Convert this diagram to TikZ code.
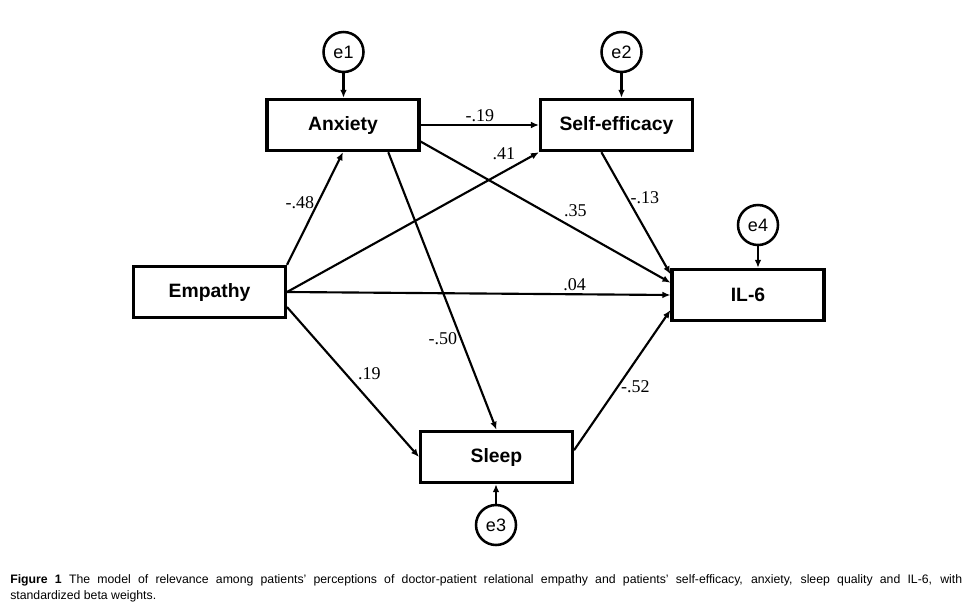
\documentclass[tikz,border=0pt]{standalone}
\usepackage{fontspec}
\setmainfont{Liberation Serif}
\setsansfont{Liberation Sans}
\usetikzlibrary{arrows.meta}

\begin{document}
\begin{tikzpicture}[x=0.75pt, y=-0.75pt,
    varbox/.style={rectangle, draw, line width=2.3pt, minimum width=114pt, minimum height=38.5pt, inner sep=0pt, font=\sffamily\bfseries\fontsize{14.5}{17}\selectfont},
    errcirc/.style={circle, draw, line width=1.9pt, minimum size=30pt, inner sep=0pt, font=\sffamily\fontsize{13.5}{16}\selectfont},
    regline/.style={-{Latex[length=6pt, width=5pt]}, line width=1.6pt},
    coef/.style={font=\fontsize{13.5}{16}\selectfont, inner sep=2pt}]
            \useasboundingbox (0,0) rectangle (972,611);
            \node[varbox] (anx) at (343,125) {Anxiety};
            \node[varbox] (self) at (616.5,125) {Self-efficacy};
            \node[varbox] (emp) at (209.5,292) {Empathy};
            \node[varbox] (il6) at (748,295) {IL-6};
            \node[varbox] (sleep) at (496.5,457) {Sleep};
            \node[errcirc] (e1) at (343.5,52) {e1};
            \node[errcirc] (e2) at (621.5,52) {e2};
            \node[errcirc] (e3) at (496,525) {e3};
            \node[errcirc] (e4) at (758,225) {e4};
            \draw[regline] (e1.south) -- (e1.south |- anx.north);
            \draw[regline] (e2.south) -- (e2.south |- self.north);
            \draw[regline] (e3.north) -- (e3.north |- sleep.south);
            \draw[regline] (e4.south) -- (e4.south |- il6.north);
            \draw[regline] (emp.north east) -- node[coef, pos=0.55, left] {-.48} (anx.south);
            \draw[regline] (emp.east) -- node[coef, pos=0.92, above left] {.41} (self.south west);
            \draw[regline] (anx.east) -- node[coef, above] {-.19} (self.west);
            \draw[regline] (anx.-12) -- node[coef, pos=0.56, above right] {.35} (il6.171);
            \draw[regline] (self.-119) -- node[coef, pos=0.37, right] {-.13} (il6.165);
            \draw[regline] (emp.east) -- node[coef, pos=0.75, above] {.04} (il6.west);
            \draw[regline] (anx.-31) -- node[coef, pos=0.67, left] {-.50} (sleep.north);
            \draw[regline] (emp.-11) -- node[coef, pos=0.51, above right] {.19} (sleep.west);
            \draw[regline] (sleep.5) -- node[coef, pos=0.45, right] {-.52} (il6.191);
            \node[anchor=north west, inner sep=0pt, text width=714pt, align=justify, font=\sffamily\fontsize{9.2}{12}\selectfont] (cap) at (10,574) {\textbf{Figure 1} The model of relevance among patients’ perceptions of doctor-patient relational empathy and patients’ self-efficacy, anxiety, sleep quality and IL-6, with\linebreak standardized beta weights.};
        \end{tikzpicture}
\end{document}
